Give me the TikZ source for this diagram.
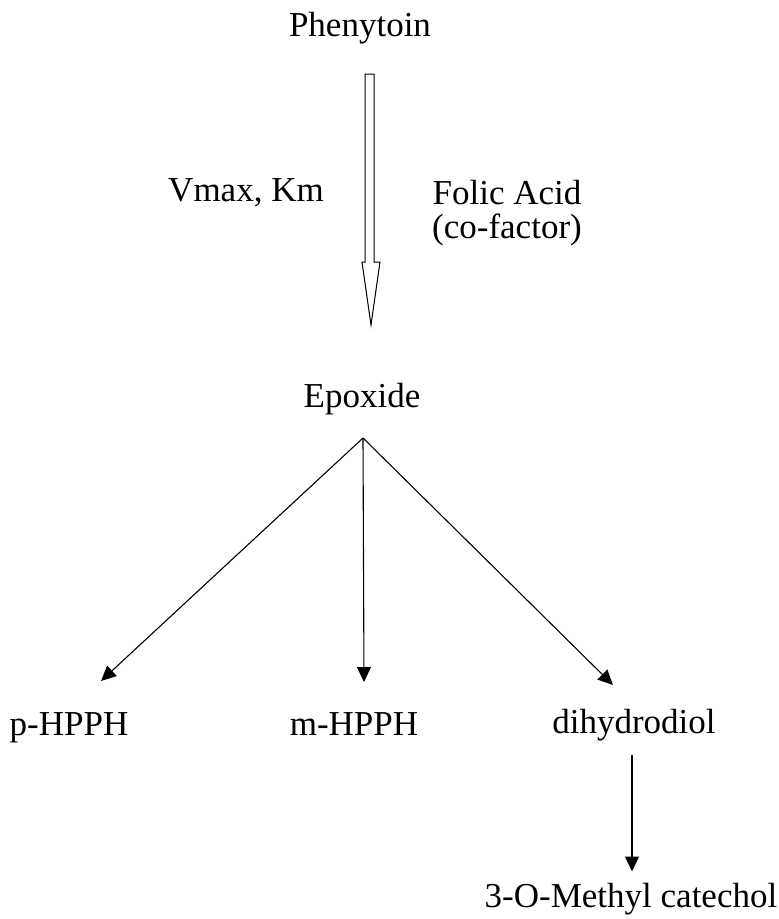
\documentclass[tikz,border=0pt]{standalone}
\usepackage{fontspec}
\setmainfont{Liberation Serif}
\usetikzlibrary{arrows.meta,positioning,calc}

\begin{document}
\begin{tikzpicture}[
    x=1pt, y=-1pt,
    term/.style={anchor=base, inner sep=0pt, font=\fontsize{35}{34}\selectfont},
    line/.style={draw, -{Triangle[length=15pt,width=14pt]}, line width=1.1pt},
    hollow/.style={draw, line width=1pt}
]
    \useasboundingbox (0,0) rectangle (779,919);

    % Nodes
    \node [term] (phen) at (360,36) {Phenytoin};
    \node [term] (vmax) at (246,201) {Vmax, Km};
    \node [term, align=center] (folic) at (507,238) {Folic Acid\\(co-factor)};
    \node [term] (epox) at (362,407) {Epoxide};
    \node [term] (phpph) at (69,735) {p-HPPH};
    \node [term] (mhpph) at (354,735) {m-HPPH};
    \node [term] (dihyd) at (634,733) {dihydrodiol};
    \node [term] (cat) at (631,907) {3-O-Methyl catechol};

    % Branch point and arrow tips
    \coordinate (split) at (363,438);
    \coordinate (tipP) at (101,681);
    \coordinate (tipM) at (364,682);
    \coordinate (tipD) at (613,685);

    % Hollow arrow (enzyme step)
    \draw [hollow] (365,74) -- (374,74) -- (374,262) -- (380,262)
        -- (371,325) -- (362,262) -- (365,262) -- cycle;

    % Connections
    \draw [line] (split) -- (tipP);
    \draw [line] (split) -- (tipM);
    \draw [line] (split) -- (tipD);
    \draw [line] ($(dihyd.south -| cat.north)+(1,14)$) -- ($(cat.north)+(1,-11)$);

\end{tikzpicture}
\end{document}
